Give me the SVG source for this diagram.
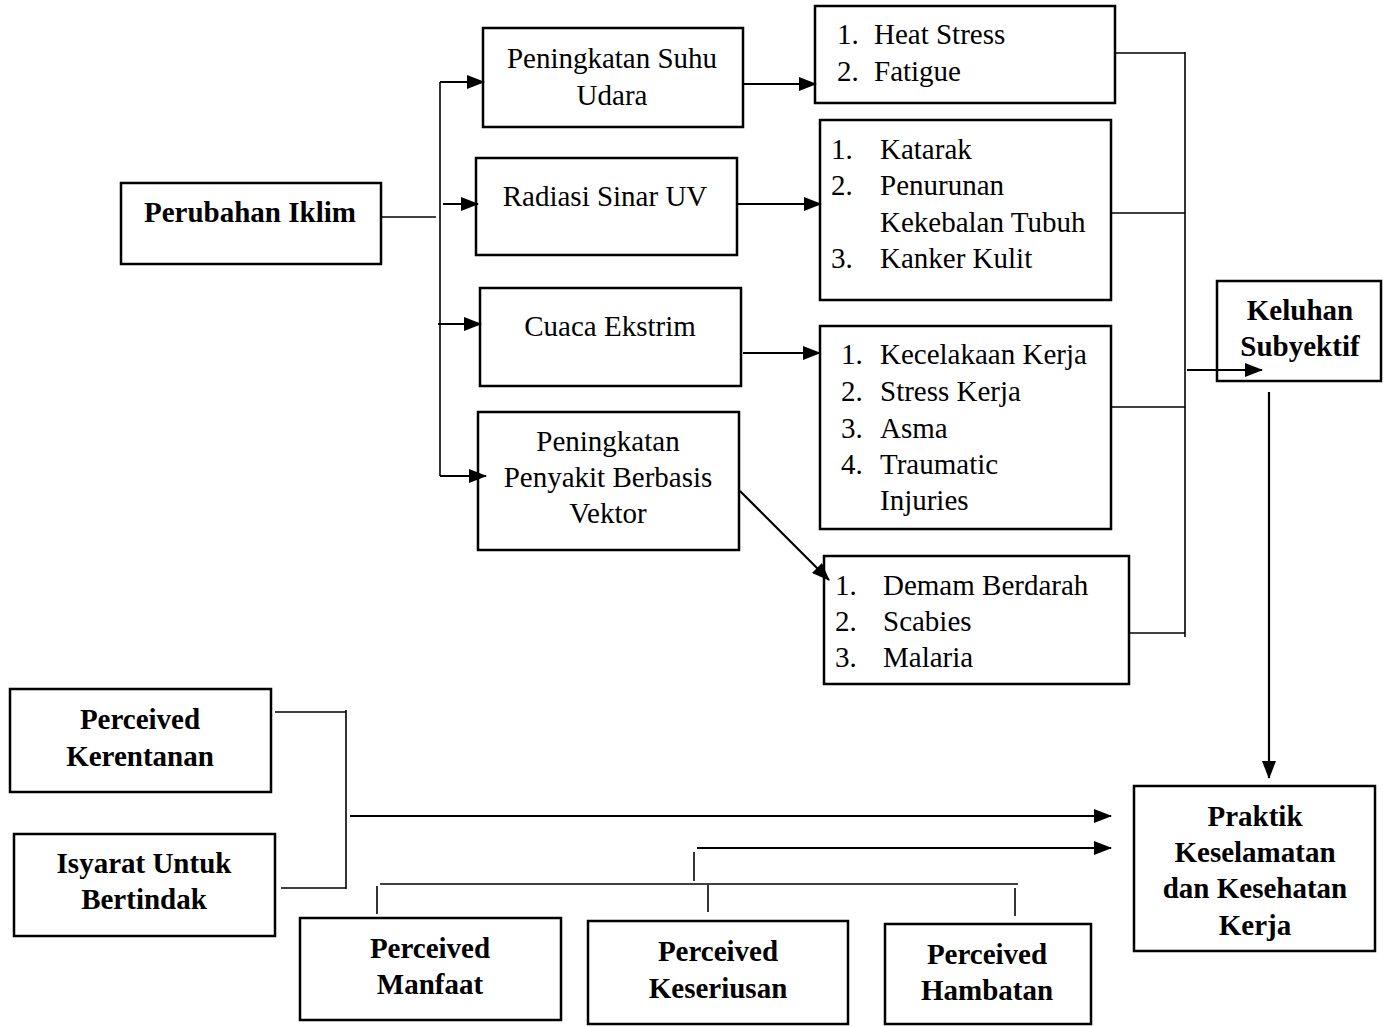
<svg xmlns="http://www.w3.org/2000/svg" width="1383" height="1027" viewBox="0 0 1383 1027">
<style>
.box{fill:#fff;stroke:#000;stroke-width:2.5}
.t{font-family:"Liberation Serif","Times New Roman",serif;font-size:29px;fill:#000}
.b{font-weight:bold;text-anchor:middle}
.c{text-anchor:middle}
.ln{stroke:#000;stroke-width:1.6;fill:none}
.ar{stroke:#000;stroke-width:2.2;fill:none;marker-end:url(#ah)}
</style>
<defs>
<marker id="ah" markerWidth="18" markerHeight="14" refX="17" refY="7" orient="auto" markerUnits="userSpaceOnUse">
<path d="M0,0 L18,7 L0,14 Z" fill="#000"/>
</marker>
</defs>
<rect width="1383" height="1027" fill="#fff"/>
<g id="perubahan-iklim"><rect class="box" x="121" y="183" width="260" height="81"/><text class="t b" x="250" y="222">Perubahan Iklim</text></g>
<g id="suhu"><rect class="box" x="483" y="28" width="260" height="99"/><text class="t c" x="612" y="68">Peningkatan Suhu</text><text class="t c" x="612" y="105">Udara</text></g>
<g id="radiasi"><rect class="box" x="476" y="158" width="261" height="97"/><text class="t c" x="605" y="206">Radiasi Sinar UV</text></g>
<g id="cuaca"><rect class="box" x="480" y="288" width="261" height="98"/><text class="t c" x="610" y="336">Cuaca Ekstrim</text></g>
<g id="vektor"><rect class="box" x="478" y="412" width="261" height="138"/><text class="t c" x="608" y="451">Peningkatan</text><text class="t c" x="608" y="487">Penyakit Berbasis</text><text class="t c" x="608" y="523">Vektor</text></g>
<g id="heat"><rect class="box" x="815" y="6" width="300" height="97"/><text class="t" x="837" y="44">1.</text><text class="t" x="874" y="44">Heat Stress</text><text class="t" x="837" y="81">2.</text><text class="t" x="874" y="81">Fatigue</text></g>
<g id="katarak"><rect class="box" x="820" y="120" width="291" height="180"/><text class="t" x="831" y="159">1.</text><text class="t" x="880" y="159">Katarak</text><text class="t" x="831" y="195">2.</text><text class="t" x="880" y="195">Penurunan</text><text class="t" x="880" y="232">Kekebalan Tubuh</text><text class="t" x="831" y="268">3.</text><text class="t" x="880" y="268">Kanker Kulit</text></g>
<g id="kecelakaan"><rect class="box" x="820" y="326" width="291" height="203"/><text class="t" x="841" y="364">1.</text><text class="t" x="880" y="364">Kecelakaan Kerja</text><text class="t" x="841" y="401">2.</text><text class="t" x="880" y="401">Stress Kerja</text><text class="t" x="841" y="438">3.</text><text class="t" x="880" y="438">Asma</text><text class="t" x="841" y="474">4.</text><text class="t" x="880" y="474">Traumatic</text><text class="t" x="880" y="510">Injuries</text></g>
<g id="demam"><rect class="box" x="824" y="556" width="305" height="128"/><text class="t" x="835" y="595">1.</text><text class="t" x="883" y="595">Demam Berdarah</text><text class="t" x="835" y="631">2.</text><text class="t" x="883" y="631">Scabies</text><text class="t" x="835" y="667">3.</text><text class="t" x="883" y="667">Malaria</text></g>
<g id="keluhan"><rect class="box" x="1217" y="281" width="164" height="100"/><text class="t b" x="1300" y="320">Keluhan</text><text class="t b" x="1300" y="356">Subyektif</text></g>
<g id="praktik"><rect class="box" x="1134" y="786" width="241" height="165"/><text class="t b" x="1255" y="826">Praktik</text><text class="t b" x="1255" y="862">Keselamatan</text><text class="t b" x="1255" y="898">dan Kesehatan</text><text class="t b" x="1255" y="935">Kerja</text></g>
<g id="kerentanan"><rect class="box" x="10" y="689" width="261" height="103"/><text class="t b" x="140" y="729">Perceived</text><text class="t b" x="140" y="766">Kerentanan</text></g>
<g id="isyarat"><rect class="box" x="14" y="834" width="261" height="102"/><text class="t b" x="144" y="873">Isyarat Untuk</text><text class="t b" x="144" y="909">Bertindak</text></g>
<g id="manfaat"><rect class="box" x="300" y="918" width="261" height="102"/><text class="t b" x="430" y="958">Perceived</text><text class="t b" x="430" y="994">Manfaat</text></g>
<g id="keseriusan"><rect class="box" x="588" y="921" width="260" height="103"/><text class="t b" x="718" y="961">Perceived</text><text class="t b" x="718" y="998">Keseriusan</text></g>
<g id="hambatan"><rect class="box" x="885" y="924" width="206" height="100"/><text class="t b" x="987" y="964">Perceived</text><text class="t b" x="987" y="1000">Hambatan</text></g>
<g id="connectors">
<line class="ln" x1="381" y1="217" x2="436" y2="217"/>
<line class="ln" x1="440" y1="82" x2="440" y2="476"/>
<line class="ar" x1="440" y1="82" x2="484" y2="82"/>
<line class="ar" x1="443" y1="204" x2="478" y2="204"/>
<line class="ar" x1="438" y1="324" x2="481" y2="324"/>
<line class="ar" x1="440" y1="476" x2="486" y2="476"/>
<line class="ar" x1="743" y1="84" x2="816" y2="84"/>
<line class="ar" x1="737" y1="204" x2="821" y2="204"/>
<line class="ar" x1="743" y1="353" x2="820" y2="353"/>
<line class="ar" x1="740" y1="491" x2="829" y2="580"/>
<line class="ln" x1="1185" y1="52" x2="1185" y2="637"/>
<line class="ln" x1="1115" y1="53" x2="1185" y2="53"/>
<line class="ln" x1="1111" y1="213" x2="1185" y2="213"/>
<line class="ln" x1="1111" y1="407" x2="1185" y2="407"/>
<line class="ln" x1="1129" y1="633" x2="1185" y2="633"/>
<line class="ar" x1="1187" y1="370" x2="1262" y2="370"/>
<line class="ar" x1="1269" y1="392" x2="1269" y2="778"/>
<line class="ln" x1="275" y1="712" x2="346" y2="712"/>
<line class="ln" x1="346" y1="710" x2="346" y2="889"/>
<line class="ln" x1="281" y1="888" x2="346" y2="888"/>
<line class="ar" x1="350" y1="816" x2="1111" y2="816"/>
<line class="ar" x1="697" y1="848" x2="1111" y2="848"/>
<line class="ln" x1="694" y1="852" x2="694" y2="881"/>
<line class="ln" x1="380" y1="884" x2="1018" y2="884"/>
<line class="ln" x1="377" y1="886" x2="377" y2="914"/>
<line class="ln" x1="708" y1="885" x2="708" y2="912"/>
<line class="ln" x1="1015" y1="888" x2="1015" y2="916"/>
</g>
</svg>
